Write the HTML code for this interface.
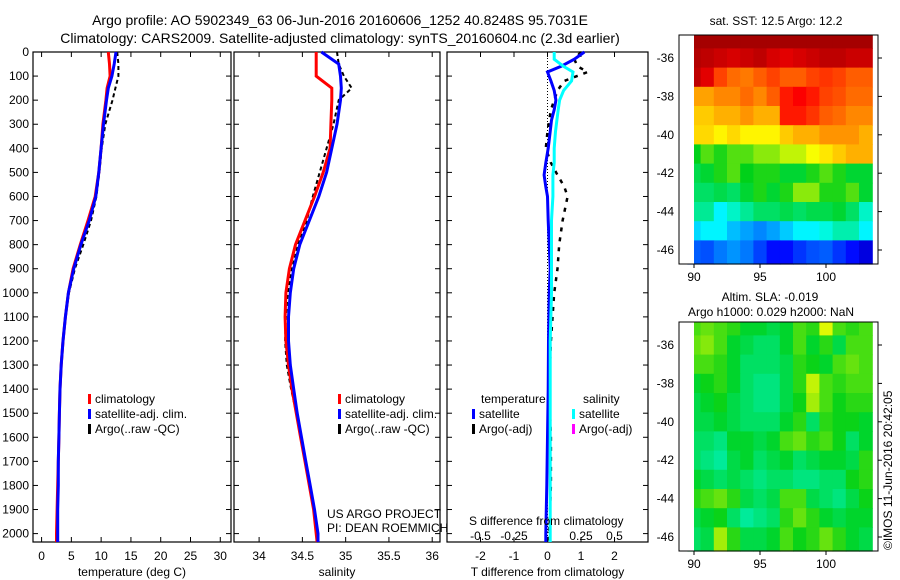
<!DOCTYPE html>
<html><head><meta charset="utf-8"><style>
body{margin:0;background:#fff;}
svg{display:block;font-family:"Liberation Sans",sans-serif;}
text{fill:#000;}
</style></head><body>
<svg id="fig" width="900" height="580" viewBox="0 0 900 580">
<text x="340" y="25" font-size="14" text-anchor="middle">Argo profile: AO 5902349_63 06-Jun-2016 20160606_1252 40.8248S 95.7031E</text>
<text x="340" y="43" font-size="14" text-anchor="middle">Climatology: CARS2009. Satellite-adjusted climatology: synTS_20160604.nc (2.3d earlier)</text>
<g id="g1"></g><g id="g2"></g><g id="g3"></g><g id="g4"></g><g id="g5"></g>
<text x="327" y="518" font-size="12">US ARGO PROJECT</text>
<text x="327" y="532" font-size="12">PI: DEAN ROEMMICH</text>
<text x="469" y="525" font-size="12">S difference from climatology</text>
<text x="776" y="25" font-size="12" text-anchor="middle">sat. SST: 12.5 Argo: 12.2</text>
<text x="770" y="301" font-size="12" text-anchor="middle">Altim. SLA: -0.019</text>
<text x="771" y="316" font-size="12" text-anchor="middle">Argo h1000: 0.029 h2000: NaN</text>
<text transform="translate(892,550) rotate(-90)" font-size="12">©IMOS 11-Jun-2016 20:42:05</text>
</svg>
<script>
// ---- data ----
const depths = [0,50,100,150,200,300,400,500,600,700,800,900,1000,1100,1200,1300,1400,1500,1600,1700,1800,1900,2000,2035];
const tempClim = [11.2,11.4,11.5,11.0,10.8,10.3,10.0,9.6,9.0,7.8,6.5,5.3,4.5,4.0,3.6,3.3,3.1,3.0,2.9,2.8,2.7,2.6,2.5,2.5];
const tempSat  = [12.5,12.2,11.8,11.2,10.9,10.4,10.0,9.6,9.1,8.0,6.6,5.4,4.5,4.0,3.6,3.3,3.1,3.0,2.9,2.8,2.8,2.7,2.7,2.7];
const tempArgo = [12.7,12.9,12.9,12.4,11.9,10.7,10.1,9.7,9.2,8.3,7.0,5.6,4.6,4.0,3.6,3.3,3.1,3.0,2.9,2.8,2.8,2.7,2.7,2.7];
const salClim = [34.66,34.66,34.66,34.84,34.84,34.83,34.82,34.74,34.64,34.53,34.42,34.35,34.31,34.30,34.31,34.34,34.38,34.43,34.48,34.53,34.58,34.63,34.66,34.67];
const salSat  = [34.72,34.92,34.94,34.95,34.94,34.90,34.84,34.78,34.69,34.58,34.47,34.40,34.36,34.34,34.34,34.36,34.40,34.44,34.49,34.54,34.59,34.64,34.68,34.68];
const salArgo = [34.90,34.92,34.98,35.07,34.92,34.86,34.78,34.70,34.62,34.55,34.45,34.38,34.33,34.31,34.30,34.32,34.37,34.43,34.48,34.53,34.58,34.63,34.66,34.67];
const dDepths = [0,30,60,83,120,160,200,240,283,330,400,460,511,560,600,700,800,900,1000,1200,1400,1600,1800,2000,2035];
const tDiffSat = [1.1,0.8,0.4,0.0,0.1,0.2,0.25,0.2,0.12,0.08,0.02,-0.05,-0.1,-0.05,0.0,0.02,0.05,0.08,0.05,0.03,0.02,0.0,-0.02,-0.05,-0.05];
const sDiffSat = [0.05,0.05,0.12,0.19,0.18,0.12,0.09,0.08,0.07,0.06,0.05,0.05,0.04,0.04,0.04,0.03,0.03,0.03,0.03,0.02,0.02,0.02,0.02,0.02,0.02];
const tDiffArgo = [1.0,0.8,0.9,1.2,0.5,0.3,0.2,0.1,0.05,0.0,-0.05,0.1,0.3,0.5,0.6,0.45,0.35,0.3,0.2,0.1,0.05,0.1,0.1,0.05,0.05];
const tempTicks = [0,5,10,15,20,25,30];
const salTicks = [34,34.5,35,35.5,36];
const tDiffTicks = [-2,-1,0,1,2];
const sDiffTicks = [-0.5,-0.25,0,0.25,0.5];
const sDiffTickLabels = ['-0.5','-0.25','0','0.25','0.5'];
const depthTicks = [0,100,200,300,400,500,600,700,800,900,1000,1100,1200,1300,1400,1500,1600,1700,1800,1900,2000];
const sstLats = [-35,-36,-37,-38,-39,-40,-41,-42,-43,-44,-45,-46];
const sstGrid = [
[14,14,14,14,14,14,14,14,14,14,14,14,14,14],
[13.9,13.8,13.7,13.6,13.7,13.8,13.6,13.5,13.6,13.7,13.8,13.8,13.7,13.7],
[13.8,13.5,12.8,12.5,12.4,12.6,12.8,12.6,12.6,12.8,12.9,12.8,12.6,12.6],
[12.1,12.1,12.3,12.3,12.5,12.3,12.6,13.1,13.3,13.1,12.8,12.7,12.5,12.5],
[11.8,11.8,12.0,12.0,12.2,12.0,12.0,13.1,13.1,12.9,12.6,12.5,12.3,12.3],
[11.7,11.7,11.5,11.7,11.5,11.5,11.5,11.8,12.0,12.0,12.2,12.2,12.2,12.0],
[10.5,10.8,10.6,10.8,10.8,11,11,11.2,11.2,11.4,11.6,11.8,12,12],
[10.3,10.4,10.6,10.8,10.5,10.6,10.6,10.4,10.4,10.6,10.8,10.6,10.4,10.4],
[10.2,10.2,10.3,10.2,10.4,10.6,10.4,10.6,11,11,10.6,10.6,10.8,10.4],
[10,10,9.5,9.8,10,10.2,10.2,10.3,10.2,10.3,10.3,10.4,10.2,9.8],
[9.3,9.5,9.5,9.1,8.9,8.7,8.9,9.2,9.5,9.5,9.7,9.9,9.9,9.5],
[8.4,8.3,8.6,8.8,8.6,8.2,7.8,7.8,8.1,8.3,8.4,8.1,7.8,7.5]];
const slaGrid = [
[0.03,0.04,0.03,0.02,0,0,-0.01,0,0.03,0.02,0.08,0.03,0.02,0.03],
[0.04,0.05,0.03,0,-0.01,-0.02,-0.02,0,0.03,0,0.02,-0.01,0.03,0.03],
[0.03,0.03,0.02,0,-0.02,-0.02,-0.02,-0.01,0.02,0.01,0,0.03,0.04,0.03],
[0,0.01,0.02,0,-0.02,-0.03,-0.03,-0.01,0.02,0.07,0.03,0.02,0.03,0.03],
[-0.01,0,0.01,-0.01,-0.02,-0.03,-0.03,-0.01,0.01,0.06,0.03,0.01,0.02,0.02],
[-0.01,-0.01,0,-0.01,-0.02,-0.02,-0.02,0,0.02,-0.02,0.02,0.01,0.01,0],
[-0.02,-0.02,-0.03,0,0,-0.01,0,0.03,0.04,0.02,0.03,0.01,-0.02,0],
[-0.02,-0.03,-0.04,-0.01,0,-0.02,-0.01,0,-0.02,-0.01,0,0,-0.01,0.02],
[0,-0.01,-0.02,-0.01,-0.02,-0.03,-0.02,-0.02,-0.03,-0.03,-0.02,-0.02,0.01,0.02],
[0.02,0.03,0.04,0.02,-0.01,-0.02,-0.01,0.03,0.03,-0.01,-0.02,-0.03,-0.01,0.01],
[-0.01,0,0.01,-0.02,-0.04,-0.03,-0.02,0.02,0.04,0.02,0,-0.01,0,0],
[-0.02,-0.01,0.06,0.02,-0.01,-0.01,0,0.03,0.01,0.02,0.04,0.02,0,-0.01]];
const mapLonTicks = [90,95,100];
const mapLatTicks = [-36,-38,-40,-42,-44,-46];

// ---- helpers ----
const NS='http://www.w3.org/2000/svg';
function mk(parent,tag,attrs){const e=document.createElementNS(NS,tag);for(const k in attrs)e.setAttribute(k,attrs[k]);parent.appendChild(e);return e;}
const TOP=52, BOT=542, PXD=0.2408;
const yD = d => TOP + d*PXD;
function jet(f){f=Math.max(0,Math.min(1,f));
 const st=[[0,0,0,0.5],[0.125,0,0,1],[0.375,0,1,1],[0.5,0,0.82,0.1],[0.625,1,1,0],[0.875,1,0,0],[1,0.55,0,0]];
 for(let i=1;i<st.length;i++){if(f<=st[i][0]){const a=st[i-1],b=st[i],t=(f-a[0])/(b[0]-a[0]);
  return 'rgb('+[1,2,3].map(j=>Math.round(255*(a[j]+t*(b[j]-a[j])))).join(',')+')';}}return 'rgb(140,0,0)';}

function panel(g,L,R,x0,x1,ticks,labels,title,showDepth,name){
 const xs=v=>L+(v-x0)/(x1-x0)*(R-L);
 mk(g,'rect',{x:L,y:TOP,width:R-L,height:BOT-TOP,fill:'none',stroke:'#000','stroke-width':1.2,});
 depthTicks.forEach(d=>{const y=yD(d);
  mk(g,'line',{x1:L,x2:L+5,y1:y,y2:y,stroke:'#000'});mk(g,'line',{x1:R-5,x2:R,y1:y,y2:y,stroke:'#000'});
  if(showDepth){const t=mk(g,'text',{x:L-4,y:y+4,'font-size':12,'text-anchor':'end'});t.textContent=d;
   
   }});
 ticks.forEach((v,i)=>{const x=xs(v);
  mk(g,'line',{x1:x,x2:x,y1:TOP,y2:TOP+5,stroke:'#000'});mk(g,'line',{x1:x,x2:x,y1:BOT-5,y2:BOT,stroke:'#000'});
  const t=mk(g,'text',{x:x,y:560,'font-size':12,'text-anchor':'middle'});t.textContent=labels[i];
  
  });
 const tt=mk(g,'text',{x:(L+R)/2,y:576,'font-size':12,'text-anchor':'middle'});tt.textContent=title;
 
 
 return xs;}
function line(g,xs,vals,ds,color,w,dash,name){
 const pts=vals.map((v,i)=>xs(v).toFixed(1)+','+yD(ds[i]).toFixed(1)).join(' ');
 const p=mk(g,'polyline',{points:pts,fill:'none',stroke:color,'stroke-width':w});
 if(dash)p.setAttribute('stroke-dasharray',dash);
 
 }
function legend(g,x,y,items){items.forEach((it,i)=>{
 mk(g,'rect',{x:x,y:y+i*15-9,width:3,height:10,fill:it[0]});
 const t=mk(g,'text',{x:x+7,y:y+i*15,'font-size':12});t.textContent=it[1];
 
 });}

// panel 1
const g1=document.getElementById('g1');
const xT=panel(g1,33,231,-1.44,31.8,tempTicks,tempTicks.map(String),'temperature (deg C)',true,'temperature');
line(g1,xT,tempArgo,depths,'#000',2,'4 3','temp-argo-line');
line(g1,xT,tempClim,depths,'#f00',3,null,'temp-climatology-line');
line(g1,xT,tempSat,depths,'#00f',3,null,'temp-satellite-line');
legend(g1,88,403,[['#f00','climatology'],['#00f','satellite-adj. clim.'],['#000','Argo(..raw -QC)']]);
// panel 2
const g2=document.getElementById('g2');
const xS=panel(g2,234,440,33.71,36.09,salTicks,['34','34.5','35','35.5','36'],'salinity',false,'salinity');
line(g2,xS,salArgo,depths,'#000',2,'4 3','sal-argo-line');
line(g2,xS,salClim,depths,'#f00',3,null,'sal-climatology-line');
line(g2,xS,salSat,depths,'#00f',3,null,'sal-satellite-line');
legend(g2,338,403,[['#f00','climatology'],['#00f','satellite-adj. clim.'],['#000','Argo(..raw -QC)']]);
// panel 3
const g3=document.getElementById('g3');
const xD=panel(g3,447,648,-3.0,3.0,tDiffTicks,tDiffTicks.map(String),'T difference from climatology',false,'difference');
const xSD=v=>xD(v*4);
mk(g3,'line',{x1:xD(0),x2:xD(0),y1:TOP,y2:BOT,stroke:'#000','stroke-dasharray':'1 2',});
sDiffTicks.forEach((v,i)=>{const t=mk(g3,'text',{x:xSD(v),y:540,'font-size':12,'text-anchor':'middle'});t.textContent=sDiffTickLabels[i];
 
 });
line(g3,xD,tDiffArgo,dDepths,'#000',2.5,'4 6','t-diff-argo-line');
line(g3,xD,tDiffSat,dDepths,'#00f',3,null,'t-diff-satellite-line');
line(g3,xSD,sDiffSat,dDepths,'#0ff',3,null,'s-diff-satellite-line');
const tl=mk(g3,'text',{x:481,y:403,'font-size':12});tl.textContent='temperature';
const sl=mk(g3,'text',{x:583,y:403,'font-size':12});sl.textContent='salinity';
legend(g3,472,418,[['#00f','satellite'],['#000','Argo(-adj)']]);
legend(g3,572,418,[['#0ff','satellite'],['#f0f','Argo(-adj)']]);

// maps
function map(g,top,bot,lat36y,lat46y,grid,colorFn,name){
 const L=679,R=878;const xl=lon=>694+(lon-90)*13.2;const yl=lat=>lat36y+(-36-lat)*(lat46y-lat36y)/10;
 grid.forEach((row,r)=>row.forEach((v,c)=>{
  const lat=sstLats[r];const y0=Math.max(top,yl(lat+0.5)),y1=Math.min(bot,r===grid.length-1?bot:yl(lat-0.5));
  const cell=mk(g,'rect',{x:xl(89.5+c).toFixed(1),y:y0.toFixed(1),width:13.8,height:(y1-y0+0.6).toFixed(1),fill:colorFn(v)});
  
  }));
 mk(g,'rect',{x:L,y:top,width:15,height:bot-top,fill:'#fff'});
 mk(g,'rect',{x:R,y:top,width:20,height:bot-top,fill:'#fff'});
 mk(g,'rect',{x:L,y:top,width:R-L,height:bot-top,fill:'none',stroke:'#000',});
 mapLonTicks.forEach(v=>{const x=xl(v);mk(g,'line',{x1:x,x2:x,y1:bot,y2:bot+4,stroke:'#000'});
  const t=mk(g,'text',{x:x,y:bot+17,'font-size':12,'text-anchor':'middle'});t.textContent=v;
  
  });
 mapLatTicks.forEach(v=>{const y=yl(v);mk(g,'line',{x1:R,x2:R+4,y1:y,y2:y,stroke:'#000'});
  const t=mk(g,'text',{x:L-5,y:y+4,'font-size':12,'text-anchor':'end'});t.textContent=v;
  
  });}
map(document.getElementById('g4'),35,264,58,250,sstGrid,v=>jet(0.5+(v-10.5)*0.135),'sst-map');
map(document.getElementById('g5'),322,551,345,537,slaGrid,v=>jet(0.49+v*1.5),'sla-map');
</script>
</body></html>
